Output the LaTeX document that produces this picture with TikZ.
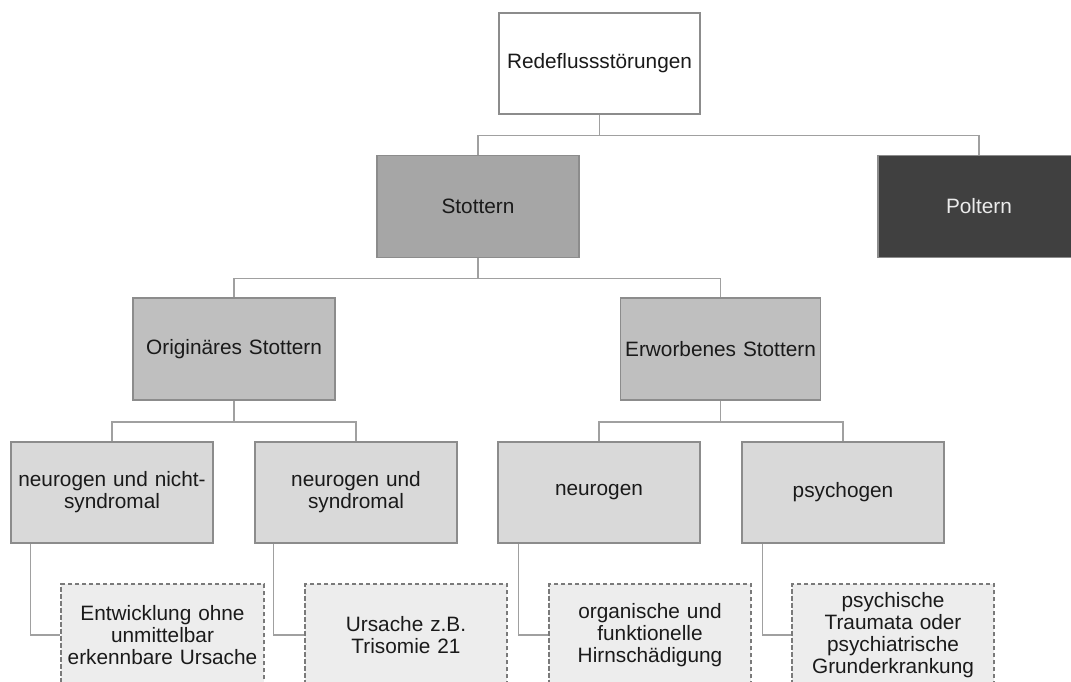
\documentclass[tikz,border=0pt]{standalone}
\usepackage{fontspec}
\setmainfont{Liberation Sans}
\definecolor{bordergray}{HTML}{8C8C8C}
\definecolor{conngray}{HTML}{A0A0A0}
\definecolor{fillA}{HTML}{A6A6A6}
\definecolor{fillB}{HTML}{BFBFBF}
\definecolor{fillC}{HTML}{D9D9D9}
\definecolor{fillD}{HTML}{EDEDED}
\definecolor{fillDark}{HTML}{404040}
\definecolor{dashgray}{HTML}{7A7A7A}
\definecolor{textgray}{HTML}{1A1A1A}
\tikzset{
  box/.style={draw=bordergray, line width=1.5pt, rectangle, minimum width=202pt, minimum height=102pt,
    inner sep=0pt, align=center, text width=198pt, font=\fontsize{20.8}{22}\selectfont, text=textgray},
  topbox/.style={box, fill=white},
  lvlA/.style={box, fill=fillA},
  lvlB/.style={box, fill=fillB},
  lvlC/.style={box, fill=fillC},
  darkbox/.style={box, fill=fillDark, text=white!92!black},
  dbox/.style={box, draw=dashgray, fill=fillD, dash pattern=on 4.5pt off 2.5pt, line width=1.5pt},
  conn/.style={draw=conngray, line width=1.5pt}
}
\begin{document}
\begin{tikzpicture}[x=1pt,y=-1pt]
\useasboundingbox (0,0) rectangle (1071,682);
\clip (0,0) rectangle (1071,682);
\fill[white] (0,0) rectangle (1071,682);

% nodes
\node[topbox, minimum width=201pt, minimum height=101pt] (rede) at (599.5,63.5) {Redeflussstörungen};
\node[lvlA] (stot) at (478,206.5) {Stottern};
\node[darkbox] (pol) at (979,206.5) {Poltern};
\node[lvlB] (orig) at (234,349) {Originäres Stottern};
\node[lvlB, minimum width=200pt] (erw) at (720.5,349) {Erworbenes Stottern};
\node[lvlC, minimum height=101pt] (n1) at (112,492.5) {neurogen und nicht-\\syndromal};
\node[lvlC, minimum height=101pt] (n2) at (356,492.5) {neurogen und\\syndromal};
\node[lvlC, minimum height=101pt] (n3) at (599,492.5) {neurogen};
\node[lvlC, minimum height=101pt] (n4) at (843,492.5) {psychogen};
\node[dbox, minimum width=203pt] (d1) at (162.5,635) {Entwicklung ohne\\unmittelbar\\erkennbare Ursache};
\node[dbox] (d2) at (406,635) {Ursache z.B.\\Trisomie 21};
\node[dbox] (d3) at (650,635) {organische und\\funktionelle\\Hirnschädigung};
\node[dbox] (d4) at (893,635) {psychische\\Traumata oder\\psychiatrische\\Grunderkrankung};

% connectors
\draw[conn] (rede.south) -- ++(0,21) -| (stot.north);
\draw[conn] (rede.south) -- ++(0,21) -| (pol.north);
\draw[conn] (stot.south) -- ++(0,20) -| (orig.north);
\draw[conn] (stot.south) -- ++(0,20) -| (erw.north);
\draw[conn] (orig.south) -- ++(0,21) -| (n1.north);
\draw[conn] (orig.south) -- ++(0,21) -| (n2.north);
\draw[conn] (erw.south) -- ++(0,21) -| (n3.north);
\draw[conn] (erw.south) -- ++(0,21) -| (n4.north);
\draw[conn] (n1.south west) ++(20,0) |- (d1.west);
\draw[conn] (n2.south west) ++(19,0) |- (d2.west);
\draw[conn] (n3.south west) ++(21,0) |- (d3.west);
\draw[conn] (n4.south west) ++(21,0) |- (d4.west);
\end{tikzpicture}
\end{document}
